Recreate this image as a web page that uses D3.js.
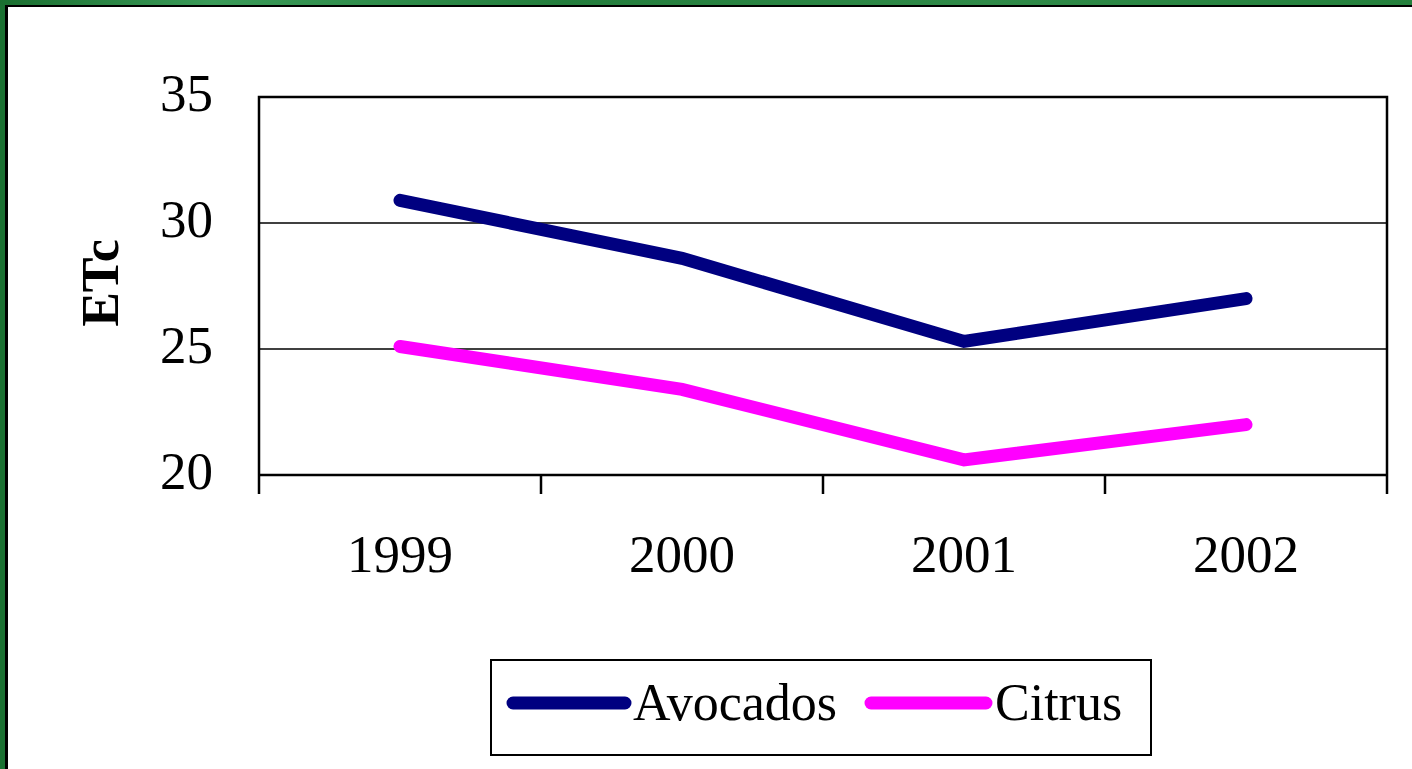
<!DOCTYPE html>
<html>
<head>
<meta charset="utf-8">
<script src="https://cdn.jsdelivr.net/npm/d3@7"></script>
<style>
  html, body { margin: 0; padding: 0; background: #fff; }
  svg { display: block; }
</style>
</head>
<body>
<svg id="chart" width="1412" height="769"></svg>
<script>
// Crop evapotranspiration (ETc) by year
const years = ["1999", "2000", "2001", "2002"];
const avocados = [30.9, 28.6, 25.3, 27.0];
const citrus = [25.1, 23.4, 20.6, 22.0];
const yTicks = [20, 25, 30, 35];
const seriesNames = ["Avocados", "Citrus"];
const seriesColors = ["#000080", "#FF00FF"];

const svg = d3.select("#chart");
const W = 1412, H = 769;

// Slide frame: green band with a thin black inner edge
const defs = svg.append("defs");
const grad = defs.append("linearGradient").attr("id", "frameGreen")
  .attr("x1", 0).attr("x2", 1).attr("y1", 0).attr("y2", 0);
grad.append("stop").attr("offset", "0%").attr("stop-color", "#1a6f30");
grad.append("stop").attr("offset", "15%").attr("stop-color", "#3a9a58");
grad.append("stop").attr("offset", "40%").attr("stop-color", "#237d3c");
grad.append("stop").attr("offset", "70%").attr("stop-color", "#2f8a48");
grad.append("stop").attr("offset", "100%").attr("stop-color", "#24803c");
svg.append("rect").attr("width", W).attr("height", H).attr("fill", "#1b7132");
svg.append("rect").attr("width", W).attr("height", 5).attr("fill", "url(#frameGreen)");
svg.append("rect").attr("x", 5).attr("y", 5).attr("width", W - 5).attr("height", H - 5).attr("fill", "#000");
svg.append("rect").attr("x", 8).attr("y", 7).attr("width", W - 8).attr("height", H - 7).attr("fill", "#fff");

const plot = { left: 259, right: 1387, top: 97, bottom: 475 };

const x = d3.scaleBand().domain(years).range([plot.left, plot.right]).padding(0);
const y = d3.scaleLinear().domain([20, 35]).range([plot.bottom, plot.top]);
const cx = d => x(d) + x.bandwidth() / 2;

const font = "'Liberation Serif', 'Times New Roman', serif";

// Gridlines
svg.append("g").selectAll("line")
  .data(yTicks.filter(t => t !== 20 && t !== 35))
  .join("line")
  .attr("x1", plot.left).attr("x2", plot.right)
  .attr("y1", d => y(d)).attr("y2", d => y(d))
  .attr("stroke", "#000").attr("stroke-width", 1.5);

// Plot frame: left, top, right
svg.append("path")
  .attr("d", `M${plot.left},${plot.bottom}V${plot.top}H${plot.right}V${plot.bottom}`)
  .attr("fill", "none").attr("stroke", "#000").attr("stroke-width", 2.5);

// Category axis with ticks at band boundaries
const xAxis = svg.append("g");
xAxis.append("line")
  .attr("x1", plot.left).attr("x2", plot.right)
  .attr("y1", plot.bottom).attr("y2", plot.bottom)
  .attr("stroke", "#000").attr("stroke-width", 2.5);
const edges = years.map(d => x(d)).concat([x(years[years.length - 1]) + x.bandwidth()]);
xAxis.selectAll("line.tick").data(edges).join("line")
  .attr("class", "tick")
  .attr("x1", d => d).attr("x2", d => d)
  .attr("y1", plot.bottom).attr("y2", plot.bottom + 19)
  .attr("stroke", "#000").attr("stroke-width", 2.5);
xAxis.selectAll("text").data(years).join("text")
  .attr("x", d => cx(d)).attr("y", 572)
  .attr("text-anchor", "middle")
  .attr("font-family", font).attr("font-size", 53)
  .text(d => d);

// Value axis labels
svg.append("g").selectAll("text").data(yTicks).join("text")
  .attr("x", 213).attr("y", d => y(d) + 14)
  .attr("text-anchor", "end")
  .attr("font-family", font).attr("font-size", 53)
  .text(d => d);

// Axis title
svg.append("text")
  .attr("transform", `translate(118,283) rotate(-90)`)
  .attr("text-anchor", "middle")
  .attr("font-family", font).attr("font-size", 52).attr("font-weight", "bold")
  .text("ETc");

// Series lines
const line = d3.line().x((d, i) => cx(years[i])).y(d => y(d));
[avocados, citrus].forEach((vals, k) => {
  svg.append("path")
    .datum(vals)
    .attr("d", line)
    .attr("fill", "none")
    .attr("stroke", seriesColors[k])
    .attr("stroke-width", 13)
    .attr("stroke-linecap", "round")
    .attr("stroke-linejoin", "miter");
});

// Legend
const lg = svg.append("g");
lg.append("rect").attr("x", 491).attr("y", 660).attr("width", 660).attr("height", 95)
  .attr("fill", "#fff").attr("stroke", "#000").attr("stroke-width", 2);
const legendItems = [
  { name: seriesNames[0], color: seriesColors[0], x0: 513, x1: 625, tx: 633 },
  { name: seriesNames[1], color: seriesColors[1], x0: 871, x1: 986, tx: 995 }
];
legendItems.forEach(it => {
  lg.append("line").attr("x1", it.x0).attr("x2", it.x1).attr("y1", 703).attr("y2", 703)
    .attr("stroke", it.color).attr("stroke-width", 13).attr("stroke-linecap", "round");
  lg.append("text").attr("x", it.tx).attr("y", 720)
    .attr("font-family", font).attr("font-size", 52)
    .text(it.name);
});
</script>
</body>
</html>
